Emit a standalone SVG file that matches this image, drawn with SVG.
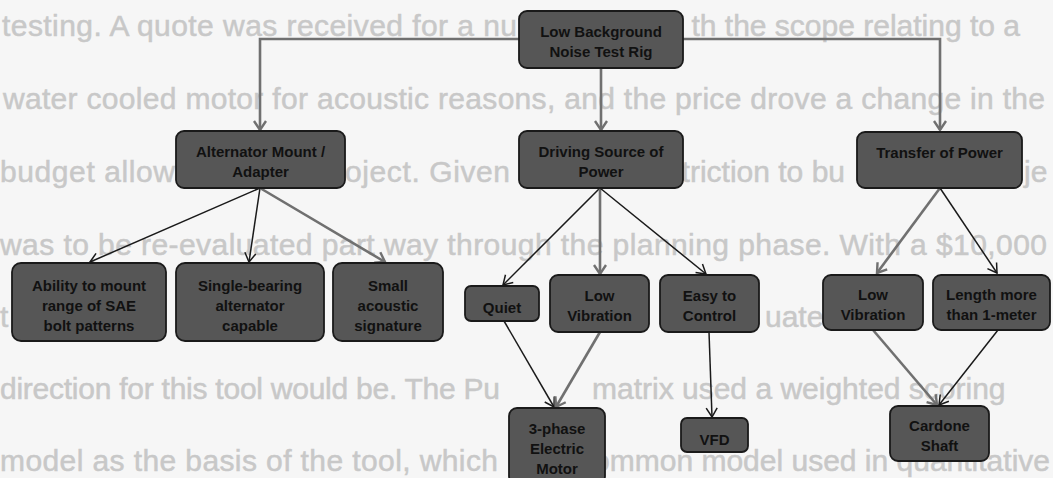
<svg xmlns="http://www.w3.org/2000/svg" width="1053" height="478" viewBox="0 0 1053 478">
<style>
.bg{font-family:"Liberation Sans",Arial,sans-serif;font-size:30px;fill:#c8c8c8;stroke:#c8c8c8;stroke-width:0.5}
.box{fill:#565656;stroke:#1a1a1a;stroke-width:1.8}
.lbl{font-family:"Liberation Sans",Arial,sans-serif;font-size:15px;font-weight:bold;fill:#111;text-anchor:middle}
.cg{fill:none;stroke:#707070;stroke-width:2.6}
.ck{fill:none;stroke:#1a1a1a;stroke-width:1.5}
</style>
<defs>
<marker id="ag" viewBox="-12 -8 14 16" refX="0" refY="0" markerWidth="14" markerHeight="16" markerUnits="userSpaceOnUse" orient="auto"><path d="M-9,-6 L0,0 L-9,6" fill="none" stroke="#707070" stroke-width="2.4"/></marker>
<marker id="ak" viewBox="-12 -8 14 16" refX="0" refY="0" markerWidth="14" markerHeight="16" markerUnits="userSpaceOnUse" orient="auto"><path d="M-9,-5.5 L0,0 L-9,5.5" fill="none" stroke="#1a1a1a" stroke-width="1.5"/></marker>
</defs>
<rect x="0" y="0" width="1053" height="478" fill="#f6f6f6"/>
<g id="background-text">
<text class="bg" x="2" y="36" textLength="515" lengthAdjust="spacing">testing. A quote was received for a nu</text>
<text class="bg" x="1020" y="36" text-anchor="end">th the scope relating to a</text>
<text class="bg" x="3" y="109" textLength="1042" lengthAdjust="spacing">water cooled motor for acoustic reasons, and the price drove a change in the</text>
<text class="bg" x="0" y="182" textLength="510" lengthAdjust="spacing">budget allowed for the project. Given</text>
<text class="bg" x="845" y="182" text-anchor="end">restriction to bu</text>
<text class="bg" x="1024" y="182">je</text>
<text class="bg" x="0" y="255" textLength="1047" lengthAdjust="spacing">was to be re-evaluated part way through the planning phase. With a $10,000</text>
<text class="bg" x="0" y="327">t</text>
<text class="bg" x="765" y="327">uate</text>
<text class="bg" x="0" y="399" textLength="500" lengthAdjust="spacing">direction for this tool would be. The Pu</text>
<text class="bg" x="592" y="399">matrix used a weighted scoring</text>
<text class="bg" x="0" y="471" textLength="498" lengthAdjust="spacing">model as the basis of the tool, which</text>
<text class="bg" x="1050" y="471" text-anchor="end">common model used in quantitative</text>
</g>
<g id="connectors">
<path class="cg" d="M519,39 H260 V130" marker-end="url(#ag)"/>
<path class="cg" d="M601,68 V130" marker-end="url(#ag)"/>
<path class="cg" d="M683,39 H940 V130" marker-end="url(#ag)"/>
<path class="ck" d="M260,188 L90,262" marker-end="url(#ak)"/>
<path class="ck" d="M260,188 L249,262" marker-end="url(#ak)"/>
<path class="cg" d="M260,188 L385,262" marker-end="url(#ag)"/>
<path class="ck" d="M600,188 L503,285" marker-end="url(#ak)"/>
<path class="cg" d="M600,188 L600,274" marker-end="url(#ag)"/>
<path class="ck" d="M600,188 L706,274" marker-end="url(#ak)"/>
<path class="cg" d="M940,188 L877,273" marker-end="url(#ag)"/>
<path class="ck" d="M940,188 L997,273" marker-end="url(#ak)"/>
<path class="ck" d="M504,321 L554,407" marker-end="url(#ak)"/>
<path class="cg" d="M600,332 L556,407" marker-end="url(#ag)"/>
<path class="ck" d="M709,332 L712,417" marker-end="url(#ak)"/>
<path class="cg" d="M873,330 L937,405" marker-end="url(#ag)"/>
<path class="ck" d="M998,330 L939,405" marker-end="url(#ak)"/>
</g>
<g id="root">
<rect class="box" x="519" y="11" width="164" height="57" rx="8"/>
<text class="lbl" x="601" y="37">Low Background</text>
<text class="lbl" x="601" y="57">Noise Test Rig</text>
</g>
<g id="alternator">
<rect class="box" x="176" y="131" width="169" height="57" rx="8"/>
<text class="lbl" x="260.5" y="157">Alternator Mount /</text>
<text class="lbl" x="260.5" y="177">Adapter</text>
</g>
<g id="driving">
<rect class="box" x="519" y="131" width="164" height="57" rx="8"/>
<text class="lbl" x="601" y="157">Driving Source of</text>
<text class="lbl" x="601" y="177">Power</text>
</g>
<g id="transfer">
<rect class="box" x="857" y="132" width="165" height="56" rx="8"/>
<text class="lbl" x="939.5" y="158">Transfer of Power</text>
</g>
<g id="ability">
<rect class="box" x="12" y="263" width="154" height="78" rx="9"/>
<text class="lbl" x="89" y="291">Ability to mount</text>
<text class="lbl" x="89" y="311">range of SAE</text>
<text class="lbl" x="89" y="331">bolt patterns</text>
</g>
<g id="single">
<rect class="box" x="176" y="263" width="148" height="78" rx="9"/>
<text class="lbl" x="250" y="291">Single-bearing</text>
<text class="lbl" x="250" y="311">alternator</text>
<text class="lbl" x="250" y="331">capable</text>
</g>
<g id="small">
<rect class="box" x="333" y="263" width="110" height="78" rx="9"/>
<text class="lbl" x="388" y="291">Small</text>
<text class="lbl" x="388" y="311">acoustic</text>
<text class="lbl" x="388" y="331">signature</text>
</g>
<g id="quiet">
<rect class="box" x="465" y="286" width="74" height="35" rx="6"/>
<text class="lbl" x="502" y="313">Quiet</text>
</g>
<g id="lowvib1">
<rect class="box" x="550" y="275" width="99" height="57" rx="8"/>
<text class="lbl" x="599.5" y="301">Low</text>
<text class="lbl" x="599.5" y="321">Vibration</text>
</g>
<g id="easy">
<rect class="box" x="660" y="275" width="99" height="57" rx="8"/>
<text class="lbl" x="709.5" y="301">Easy to</text>
<text class="lbl" x="709.5" y="321">Control</text>
</g>
<g id="lowvib2">
<rect class="box" x="823" y="275" width="100" height="55" rx="8"/>
<text class="lbl" x="873" y="300">Low</text>
<text class="lbl" x="873" y="320">Vibration</text>
</g>
<g id="length">
<rect class="box" x="933" y="275" width="117" height="55" rx="8"/>
<text class="lbl" x="991.5" y="300">Length more</text>
<text class="lbl" x="991.5" y="320">than 1-meter</text>
</g>
<g id="motor">
<rect class="box" x="509" y="408" width="96" height="76" rx="8"/>
<text class="lbl" x="557" y="434">3-phase</text>
<text class="lbl" x="557" y="454">Electric</text>
<text class="lbl" x="557" y="474">Motor</text>
</g>
<g id="vfd">
<rect class="box" x="681" y="418" width="67" height="34" rx="6"/>
<text class="lbl" x="714.5" y="445">VFD</text>
</g>
<g id="cardone">
<rect class="box" x="890" y="406" width="99" height="55" rx="8"/>
<text class="lbl" x="939.5" y="431">Cardone</text>
<text class="lbl" x="939.5" y="451">Shaft</text>
</g>
</svg>
